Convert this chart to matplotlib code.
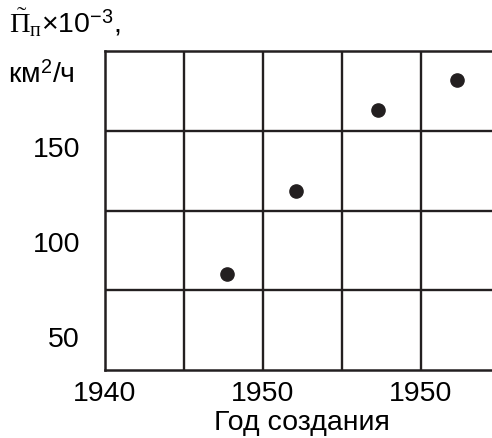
import matplotlib
matplotlib.use("Agg")
import matplotlib.pyplot as plt
import numpy as np

# Data
years = [1947.7, 1952.1, 1957.3, 1962.3]
productivity = [82.6, 126.3, 168.9, 184.7]
x_ticks = [1940, 1950, 1960]
x_tick_labels = ["1940", "1950", "1950"]
y_ticks = [50, 100, 150]
y_tick_labels = ["50", "100", "150"]
x_label = "Год создания"

plt.rcParams['font.family'] = ['Liberation Sans', 'DejaVu Sans']
plt.rcParams['mathtext.fontset'] = 'custom'
plt.rcParams['mathtext.rm'] = 'Liberation Serif'
plt.rcParams['mathtext.it'] = 'Liberation Serif:italic'
plt.rcParams['mathtext.sf'] = 'Liberation Sans'

ink = '#231f20'
W, H = 492, 439
fig = plt.figure(figsize=(W / 100, H / 100), dpi=100)
ax = fig.add_axes([105 / W, (H - 371) / H, (W - 105) / W, (371 - 52) / H])

xlim = (1940, 1964.49)
ylim = (32.1, 200.0)
ax.set_xlim(*xlim)
ax.set_ylim(*ylim)

# grid lines
for gx in np.arange(1945, xlim[1], 5):
    ax.axvline(gx, color=ink, lw=1.7, zorder=1)
for gy in np.linspace(ylim[0], ylim[1], 5)[1:-1]:
    ax.axhline(gy, color=ink, lw=1.7, zorder=1)

ax.plot(years, productivity, 'o', color=ink, markersize=9.5, zorder=3,
        clip_on=False)

for s in ['left', 'bottom', 'top']:
    ax.spines[s].set_color(ink)
    ax.spines[s].set_linewidth(1.8)
ax.spines['right'].set_visible(False)

ax.set_xticks(x_ticks)
ax.set_xticklabels(x_tick_labels, fontsize=20.5)
ax.set_yticks(y_ticks)
ax.set_yticklabels(y_tick_labels, fontsize=20.5)
ax.tick_params(axis='x', length=0, pad=7)
ax.tick_params(axis='y', length=0, pad=18)

fig.text(302 / W, 1 - 423 / H, x_label, fontsize=20.5, ha='center', va='center')

fig.text(9 / W, 1 - 33 / H,
         r"$\tilde{\Pi}_{\mathrm{п}}$×10$^{\mathsf{-3}}$,",
         fontsize=20.5, ha='left', va='baseline')
fig.text(8 / W, 1 - 82 / H, r"км$^{\mathsf{2}}$/ч",
         fontsize=20.5, ha='left', va='baseline')

fig.savefig("out.png", dpi=100)
